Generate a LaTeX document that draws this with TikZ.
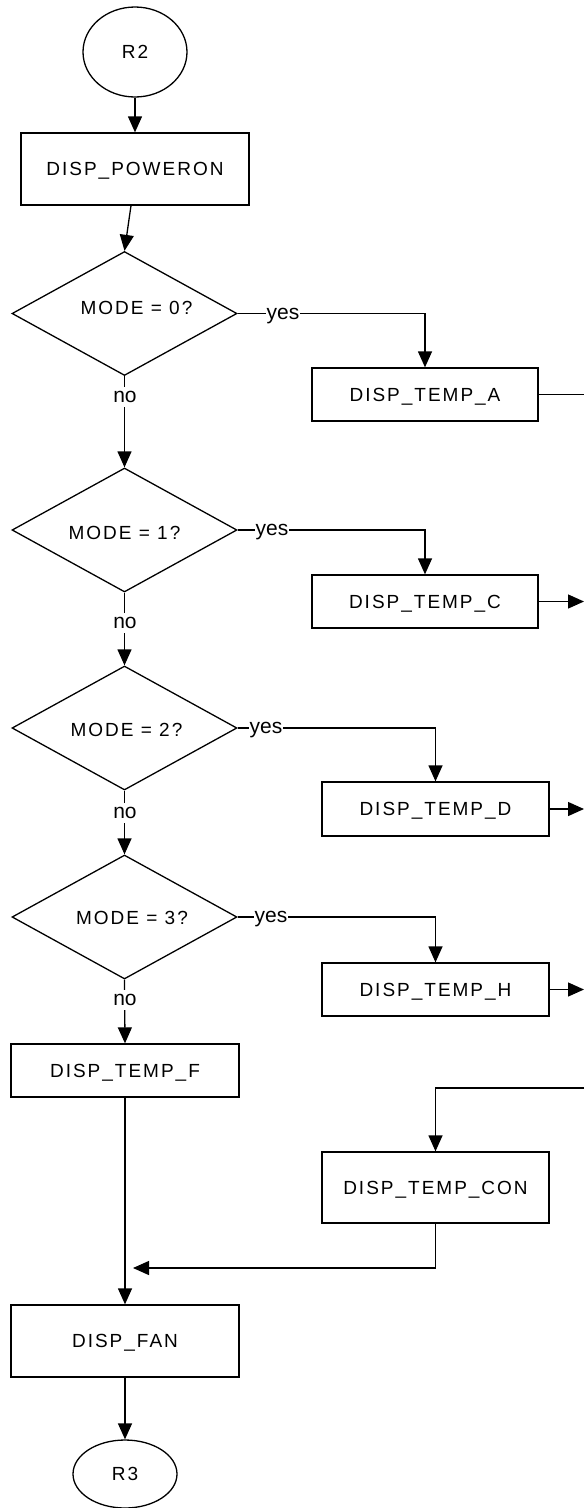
\documentclass[tikz,border=0pt]{standalone}
\usepackage{fontspec}
\setmainfont[LetterSpace=10.5]{Liberation Sans}
\newfontfamily\lblfont{Liberation Sans}
\usetikzlibrary{shapes.geometric,arrows.meta,calc}
\begin{document}
\begin{tikzpicture}[x=1pt,y=-1pt,
  font=\fontsize{19}{21}\selectfont,
  line width=1.3pt,
  box/.style={draw, rectangle, inner sep=0pt, text height=13.6pt, text depth=0pt},
  dia/.style={draw, diamond, inner sep=0pt, minimum width=225pt, minimum height=124pt},
  term/.style={draw, ellipse, inner sep=0pt, text height=13.6pt, text depth=0pt},
  arr/.style={-{Triangle[length=16pt,width=14pt]}},
  lbl/.style={fill=white, inner xsep=0.5pt, inner ysep=5pt, text height=10.9pt, text depth=0pt,
    font=\lblfont\fontsize{21}{23}\selectfont},
  qtxt/.style={inner sep=0pt, text height=13.6pt, text depth=0pt}]
\useasboundingbox (0,0) rectangle (584,1508);
% nodes
\node[term, minimum width=104pt, minimum height=90pt] (r2) at (135,52) {R2};
\node[box, minimum width=228pt, minimum height=72pt] (pwr) at (135,169) {DISP\_POWERON};
\node[dia] (d1) at (124.5,313.5) {};
\node[qtxt] (t1) at (136.5,308) {MODE = 0?};
\node[box, minimum width=226pt, minimum height=53pt] (ta) at (425,394.5) {DISP\_TEMP\_A};
\node[dia] (d2) at (124.5,530) {};
\node[qtxt] (t2) at (124.5,533) {MODE = 1?};
\node[box, minimum width=226pt, minimum height=53pt] (tc) at (425,601.5) {DISP\_TEMP\_C};
\node[dia] (d3) at (124.5,728) {};
\node[qtxt] (t3) at (126.5,729.5) {MODE = 2?};
\node[box, minimum width=227pt, minimum height=54pt] (td) at (435.5,809) {DISP\_TEMP\_D};
\node[dia] (d4) at (124.5,917) {};
\node[qtxt] (t4) at (132,918) {MODE = 3?};
\node[box, minimum width=227pt, minimum height=53pt] (th) at (435.5,989.5) {DISP\_TEMP\_H};
\node[box, minimum width=228pt, minimum height=53pt] (tf) at (125,1070.5) {DISP\_TEMP\_F};
\node[box, minimum width=227pt, minimum height=71pt] (con) at (435.5,1187.5) {DISP\_TEMP\_CON};
\node[box, minimum width=228pt, minimum height=72pt] (fan) at (125,1341) {DISP\_FAN};
\node[term, minimum width=104pt, minimum height=68pt] (r3) at (125,1474) {R3};
% free ends
\coordinate (oa) at (584,394.5);
\coordinate (oc) at (584,601.5);
\coordinate (od) at (584,809);
\coordinate (oh) at (584,989.5);
\coordinate (ic) at (584,1088);
\coordinate (jn) at (133,1268);
% connectors
\draw[arr] (r2) -- (pwr);
\draw[arr] ($(pwr.south)+(-4,0)$) -- (d1.north);
\draw[arr] (d1.east) -| (ta.north);
\draw[arr] (d1.south) -- (d2.north);
\draw[arr] (d2.east) -| (tc.north);
\draw[arr] (d2.south) -- (d3.north);
\draw[arr] (d3.east) -| (td.north);
\draw[arr] (d3.south) -- (d4.north);
\draw[arr] (d4.east) -| (th.north);
\draw[arr] (d4.south) -- (tf.north);
\draw[arr] (tf) -- (fan);
\draw[arr] (fan) -- (r3);
\draw (ta.east) -- (oa);
\draw[arr] (tc.east) -- (oc);
\draw[arr] (td.east) -- (od);
\draw[arr] (th.east) -- (oh);
\draw[arr] (ic) -| (con.north);
\draw[arr] (con.south) |- (jn);
% labels
\node[lbl] (y1) at (283,314) {yes};
\node[lbl] (y2) at (272,530.5) {yes};
\node[lbl] (y3) at (266,728.5) {yes};
\node[lbl] (y4) at (271,917.5) {yes};
\node[lbl] (n1) at (125,397) {no};
\node[lbl] (n2) at (125,623) {no};
\node[lbl] (n3) at (125,813) {no};
\node[lbl] (n4) at (125,1000) {no};
\end{tikzpicture}
\end{document}
